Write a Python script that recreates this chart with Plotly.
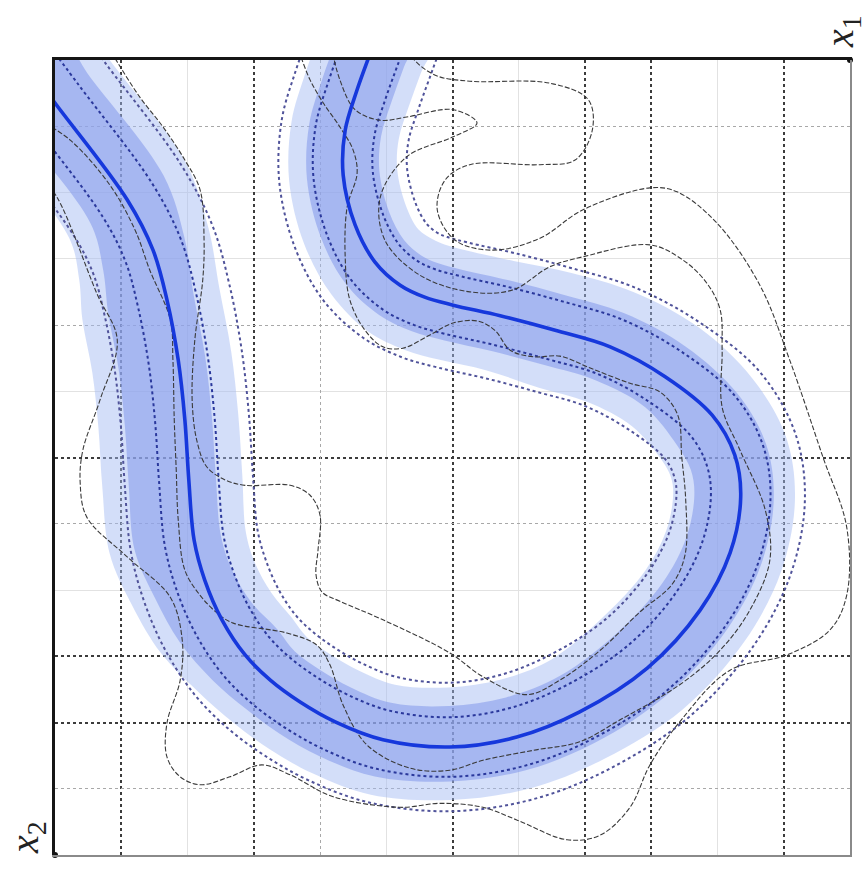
import numpy as np
import plotly.graph_objects as go

# ---- mean trajectory in the (x1, x2) plane ----
mean_x1 = [-0.68, 0.00, 1.09, 1.48, 1.69, 1.86, 1.96, 2.02, 2.10, 2.26, 2.52, 2.87, 3.25,
           3.70, 4.23, 4.95, 5.96, 6.97, 7.92, 8.94, 9.74, 10.19, 10.35, 10.26, 9.92, 9.21,
           8.38, 7.55, 6.72, 6.01, 5.58, 5.21, 4.83, 4.53, 4.35, 4.38, 4.56, 4.75, 4.94]
mean_x2 = [-0.26, 0.65, 2.11, 2.87, 3.62, 4.53, 5.43, 6.34, 7.25, 7.85, 8.45, 8.98, 9.36,
           9.69, 9.99, 10.26, 10.37, 10.22, 9.84, 9.18, 8.30, 7.44, 6.60, 5.96, 5.36, 4.78,
           4.33, 4.08, 3.86, 3.70, 3.58, 3.40, 3.05, 2.49, 1.74, 1.06, 0.45, -0.08, -0.60]

# confidence tube at each mean point: half-widths and sideways shift of its centre
band_outer_hw = [1.05, 1.05, 1.05, 1.05, 1.06, 1.06, 1.06, 1.06, 1.04, 0.98, 0.95, 0.90, 0.85,
                 0.85, 0.85, 0.85, 0.85, 0.85, 0.85, 0.92, 0.92, 0.92, 0.92, 0.92, 0.92, 0.90,
                 0.90, 0.90, 0.85, 0.85, 0.85, 0.85, 0.82, 0.82, 0.82, 0.82, 0.82, 0.82, 0.82]
band_inner_hw = [0.66, 0.66, 0.66, 0.66, 0.66, 0.66, 0.66, 0.66, 0.66, 0.62, 0.62, 0.62, 0.57,
                 0.57, 0.57, 0.57, 0.57, 0.57, 0.57, 0.60, 0.60, 0.60, 0.60, 0.60, 0.60, 0.55,
                 0.55, 0.55, 0.55, 0.55, 0.55, 0.55, 0.55, 0.55, 0.55, 0.55, 0.55, 0.55, 0.55]
band_shift = [0.00, 0.00, 0.00, 0.15, 0.25, 0.25, 0.25, 0.25, 0.25, 0.18, 0.10, 0.00, 0.00,
              0.00, 0.00, 0.00, -0.05, -0.05, -0.05, -0.10, -0.10, -0.10, -0.10, -0.10, -0.10,
              0.00, 0.00, 0.00, 0.00, 0.00, 0.00, 0.00, 0.00, 0.00, 0.00, 0.00, 0.00, 0.00, 0.00]

# dotted level curves on either side of the mean
level_inner = 0.45
level_outer = 0.97

# ---- sampled trajectories ----
sample_a_x1 = [-0.23, 0.03, 0.63, 0.94, 0.68, 0.42, 0.38, 0.48, 1.09, 1.74, 1.92, 1.89, 1.69,
               1.69, 1.89, 2.19, 2.64, 3.12, 3.55, 4.20, 5.21, 5.81, 6.46, 6.97, 7.73, 8.23,
               8.68, 8.98, 9.43, 10.19, 11.05, 11.70, 11.95, 11.95, 11.59, 11.09, 10.64, 9.99,
               9.39, 8.98, 7.97, 7.32, 6.61, 6.04, 5.77, 5.89, 6.26, 7.32, 7.85, 8.11, 8.05,
               7.47, 6.26, 5.74, 5.40, 5.28]
sample_a_x2 = [1.74, 2.07, 3.52, 4.23, 5.13, 5.89, 6.38, 6.90, 7.50, 8.11, 8.75, 9.36, 10.01,
               10.52, 10.82, 10.94, 10.82, 10.64, 10.79, 11.12, 11.28, 11.22, 11.28, 11.47,
               11.77, 11.70, 11.28, 10.64, 9.99, 9.21, 8.98, 8.60, 8.08, 7.05, 5.99, 4.53,
               3.40, 2.46, 1.99, 1.93, 2.26, 2.69, 2.87, 2.72, 2.26, 1.81, 1.58, 1.58, 1.51,
               1.06, 0.60, 0.35, 0.32, 0.23, -0.03, -0.30]

sample_b_x1 = [0.75, 0.94, 1.28, 1.63, 1.96, 2.19, 2.25, 2.23, 2.11, 2.07, 2.14, 2.29, 2.57,
               2.87, 3.55, 3.85, 4.00, 3.97, 3.94, 4.03, 4.30, 4.95, 5.96, 6.46, 7.12, 7.62,
               8.23, 8.83, 9.31, 9.51, 9.52, 9.46, 9.40, 9.13, 8.68, 8.08, 7.62, 7.22, 6.87,
               6.64, 6.38, 6.01, 5.66, 5.25, 4.95, 4.68, 4.45, 4.38, 4.41, 4.56, 4.50, 4.30,
               4.05, 3.85, 3.70, 3.62]
sample_b_x2 = [-0.30, 0.03, 0.56, 1.01, 1.51, 1.96, 2.72, 3.32, 4.23, 5.13, 5.74, 6.14, 6.34,
               6.42, 6.42, 6.57, 6.87, 7.40, 7.77, 8.03, 8.17, 8.45, 8.95, 9.31, 9.58, 9.36,
               8.91, 8.33, 7.92, 7.47, 6.64, 5.99, 5.36, 5.01, 4.88, 4.65, 4.47, 4.48, 4.38,
               4.08, 3.94, 3.97, 4.15, 4.35, 4.33, 4.08, 3.62, 2.97, 2.22, 1.71, 1.36, 1.01,
               0.65, 0.30, -0.08, -0.30]

sample_c_x1 = [-0.23, 0.23, 0.83, 1.21, 1.43, 1.74, 1.78, 1.80, 1.83, 1.86, 1.96, 2.19, 2.45,
               2.69, 3.50, 3.95, 4.15, 4.35, 4.71, 5.36, 5.96, 6.46, 7.22, 7.92, 8.53, 9.43,
               10.04, 10.49, 10.79, 10.72, 10.34, 10.07, 10.07, 10.04, 9.84, 9.48, 8.98, 7.97,
               7.47, 6.91, 6.26, 5.51, 4.98, 4.91, 5.31, 6.01, 6.37, 6.01, 5.31, 4.91, 4.53,
               4.30, 4.15]
sample_c_x2 = [0.91, 1.21, 1.89, 2.57, 3.17, 3.92, 4.53, 5.43, 6.19, 6.94, 7.70, 8.08, 8.35,
               8.50, 8.65, 8.83, 9.13, 9.74, 10.34, 10.69, 10.72, 10.57, 10.42, 10.29, 9.96,
               9.43, 8.91, 8.30, 7.55, 6.79, 5.89, 5.24, 4.38, 3.77, 3.37, 3.02, 2.79, 2.97,
               3.12, 3.47, 3.50, 3.25, 2.72, 2.07, 1.46, 1.16, 0.95, 0.75, 0.86, 0.91, 0.75,
               0.30, -0.30]

samples = [(sample_a_x1, sample_a_x2), (sample_b_x1, sample_b_x2), (sample_c_x1, sample_c_x2)]

# ---- grid positions ----
grid_major_x1 = [1, 3, 6, 8, 9, 11]
grid_minor_x1 = [2, 5, 7, 10]
grid_light_x1 = [4]
grid_major_x2 = [6, 9, 10]
grid_minor_x2 = [2, 3, 5, 8]
grid_light_x2 = [1, 4, 7, 11]
axis_min, axis_max = 0, 12


def normals(xs, ys):
    xs = np.asarray(xs, float)
    ys = np.asarray(ys, float)
    tx = np.gradient(xs)
    ty = np.gradient(ys)
    n = np.hypot(tx, ty)
    return xs, ys, -ty / n, tx / n


def offset_curve(xs, ys, d):
    """Shift a polyline by distance d (scalar or per point) along its unit normals."""
    xs, ys, nx, ny = normals(xs, ys)
    d = np.asarray(d, float)
    return xs + d * nx, ys + d * ny


def tube(xs, ys, hw, shift):
    hw = np.asarray(hw, float)
    shift = np.asarray(shift, float)
    lx, ly = offset_curve(xs, ys, shift + hw)
    rx, ry = offset_curve(xs, ys, shift - hw)
    px = np.concatenate([lx, rx[::-1], lx[:1]])
    py = np.concatenate([ly, ry[::-1], ly[:1]])
    return px, py


fig = go.Figure()

# confidence tube: outer (pale) then inner (stronger) band
for hw, col in [(band_outer_hw, "rgba(163,186,242,0.48)"),
                (band_inner_hw, "rgba(136,157,235,0.6)")]:
    px, py = tube(mean_x1, mean_x2, hw, band_shift)
    fig.add_trace(go.Scatter(x=px, y=py, mode="lines", fill="toself", fillcolor=col,
                             line=dict(width=0, shape="spline", color=col),
                             hoverinfo="skip", showlegend=False))

# dotted level curves
for w, col in [(level_outer, "#50539a"), (-level_outer, "#50539a"),
               (level_inner, "#2a389c"), (-level_inner, "#2a389c")]:
    ox, oy = offset_curve(mean_x1, mean_x2, w)
    fig.add_trace(go.Scatter(x=ox, y=oy, mode="lines",
                             line=dict(color=col, width=2, dash="dot", shape="spline"),
                             hoverinfo="skip", showlegend=False))

# sampled trajectories
for sx, sy in samples:
    fig.add_trace(go.Scatter(x=sx, y=sy, mode="lines",
                             line=dict(color="#3a3a3a", width=1.1, dash="5px,2px", shape="spline"),
                             hoverinfo="skip", showlegend=False))

# mean trajectory
fig.add_trace(go.Scatter(x=mean_x1, y=mean_x2, mode="lines",
                         line=dict(color="#1638dc", width=3.6, shape="spline"),
                         hoverinfo="skip", showlegend=False))

# axis end points
fig.add_trace(go.Scatter(x=[axis_max, axis_min], y=[axis_min, axis_max], mode="markers",
                         xaxis="x2", yaxis="y2", cliponaxis=False,
                         marker=dict(color="#111", size=6), hoverinfo="skip", showlegend=False))

common = dict(range=[axis_min, axis_max], ticks="", showticklabels=False, zeroline=False)
common_v = dict(range=[axis_max, axis_min], ticks="", showticklabels=False, zeroline=False)
minor_style = dict(showgrid=True, gridcolor="#e2e2e2", gridwidth=1, griddash="solid", ticks="")
label_font = dict(family="Liberation Serif", size=40, color="#222")

fig.update_layout(
    width=867, height=873,
    margin=dict(l=55, r=17, t=60, b=18),
    paper_bgcolor="white", plot_bgcolor="white",
    showlegend=False,
    xaxis=dict(**common, side="top", showline=True, linecolor="#151515", linewidth=3,
               tickvals=grid_major_x1, showgrid=True, gridcolor="#3c3c3c", gridwidth=1.5,
               griddash="dot", minor=dict(tickvals=grid_minor_x1, **minor_style)),
    yaxis=dict(**common_v, side="left", showline=True, linecolor="#151515", linewidth=3,
               tickvals=grid_major_x2, showgrid=True, gridcolor="#3c3c3c", gridwidth=1.5,
               griddash="dot", minor=dict(tickvals=grid_minor_x2, **minor_style)),
    xaxis2=dict(**common, overlaying="x", side="bottom", anchor="y2", showline=True,
                linecolor="#8a8a8a", linewidth=2, tickvals=grid_light_x1, showgrid=True,
                gridcolor="#a8a8a8", gridwidth=1.3, griddash="dot"),
    yaxis2=dict(**common_v, overlaying="y", side="right", anchor="x2", showline=True,
                linecolor="#8a8a8a", linewidth=2, tickvals=grid_light_x2, showgrid=True,
                gridcolor="#a8a8a8", gridwidth=1.3, griddash="dot"),
    annotations=[
        dict(text="<i>x</i><sub>1</sub>", xref="paper", yref="paper", x=1, y=1,
             showarrow=False, textangle=-90, xanchor="center", yanchor="middle",
             xshift=-8, yshift=28, font=label_font),
        dict(text="<i>x</i><sub>2</sub>", xref="paper", yref="paper", x=0, y=0,
             showarrow=False, textangle=-90, xanchor="center", yanchor="middle",
             xshift=-28, yshift=17, font=label_font),
    ],
)

fig.write_html("out.html")
